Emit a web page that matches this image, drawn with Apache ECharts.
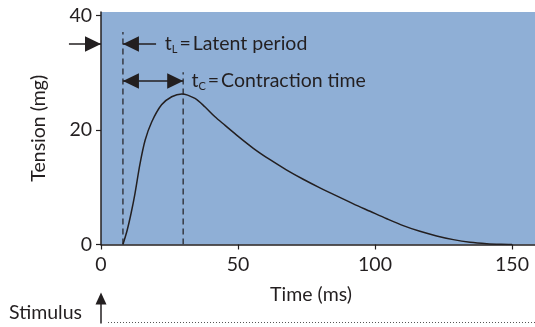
<!DOCTYPE html>
<html><head><meta charset="utf-8">
<script src="https://cdn.jsdelivr.net/npm/echarts@6/dist/echarts.min.js"></script>
<style>html,body{margin:0;padding:0;background:#fff}#c{width:535px;height:327px}</style>
</head><body><div id="c"></div>
<script>
// ---- data ----
const timeMs    = [8, 9.5, 11, 12.4, 14.2, 16.1, 18.5, 22.1, 25.8, 29.5, 34.3, 38, 41.6, 45.3, 49.5, 55.6, 61.7, 67.8, 73.8, 79.9, 86, 92.1, 98.2, 104.3, 110.3, 116.4, 122.5, 128.6, 134.7, 140.8, 146, 150];
const tensionMg = [0, 2.4, 5.5, 8.9, 14.0, 18.2, 21.4, 24.4, 25.8, 26.3, 25.5, 24.0, 22.3, 20.8, 19.1, 16.8, 14.8, 13.0, 11.4, 9.9, 8.5, 7.1, 5.8, 4.5, 3.3, 2.3, 1.5, 0.85, 0.4, 0.15, 0.04, 0];
const xTicks = [0, 50, 100, 150];
const yTicks = [0, 20, 40];
const latentEnd = 8;        // ms, end of latent period
const peakTime = 30;        // ms, end of contraction time
const latentLineTop = 37.1; // mg
const peakLineTop = 30.1;   // mg
const latentArrowY = 35.0;
const contractArrowY = 28.55;
const latentText = ['t', 'L', '=Latent period'];
const contractText = ['t', 'C', '=Contraction time'];
const xName = 'Time (ms)';
const yName = 'Tension (mg)';
const stimulusText = 'Stimulus';

const FONT = 'Lato, "Noto Sans", sans-serif';
const INK = '#231f20';
const chart = echarts.init(document.getElementById('c'), null, {renderer: 'canvas'});

const option = {
  animation: false,
  grid: {left: 101, right: 0, top: 12, bottom: 82.5, show: true, backgroundColor: '#8fafd6', borderWidth: 0},
  xAxis: {
    type: 'value', min: 0, max: 158.4,
    axisLine: {show: true, onZero: false, lineStyle: {color: INK, width: 1.5}},
    axisTick: {show: true, customValues: xTicks, length: 5, lineStyle: {color: INK, width: 1.2}},
    axisLabel: {customValues: xTicks, fontSize: 19.5, color: INK, fontFamily: FONT, margin: 10},
    splitLine: {show: false},
    name: xName, nameLocation: 'middle', nameGap: 40,
    nameTextStyle: {fontSize: 19.5, color: INK, fontFamily: FONT, padding: [0, 14, 0, 0]}
  },
  yAxis: {
    type: 'value', min: 0, max: 40.6,
    axisLine: {show: true, onZero: false, lineStyle: {color: INK, width: 1.5}},
    axisTick: {show: true, customValues: yTicks, length: 5, lineStyle: {color: INK, width: 1.2}},
    axisLabel: {customValues: yTicks, fontSize: 19.5, color: INK, fontFamily: FONT, margin: 9},
    splitLine: {show: false},
    name: yName, nameLocation: 'middle', nameGap: 52, nameRotate: 90,
    nameTextStyle: {fontSize: 19.5, color: INK, fontFamily: FONT}
  },
  series: [
    {type: 'line', data: timeMs.map((t, i) => [t, tensionMg[i]]), smooth: 0.3,
     symbol: 'none', lineStyle: {color: INK, width: 1.5}, z: 5},
    {type: 'line', data: [[latentEnd, 0], [latentEnd, latentLineTop]], symbol: 'none',
     lineStyle: {type: [6, 4], color: '#3b414d', width: 1.6}, z: 4},
    {type: 'line', data: [[peakTime, 0], [peakTime, peakLineTop]], symbol: 'none',
     lineStyle: {type: [6, 4], color: '#3b414d', width: 1.6}, z: 4}
  ]
};
chart.setOption(option);

const px = (x, y) => chart.convertToPixel({gridIndex: 0}, [x, y]);
const g = [];
const HL = 16, HW = 7.8;
function head(tip, dir) { // dir: 1 right, -1 left, 'up'
  if (dir === 'up') {
    return {type: 'polygon', shape: {points: [[tip[0], tip[1]], [tip[0] - 5.5, tip[1] + 12], [tip[0] + 5.5, tip[1] + 12]]}, style: {fill: INK}, z: 20};
  }
  return {type: 'polygon', shape: {points: [[tip[0], tip[1]], [tip[0] - dir * HL, tip[1] - HW], [tip[0] - dir * HL, tip[1] + HW]]}, style: {fill: INK}, z: 20};
}
function seg(a, b, w, extra) {
  return Object.assign({type: 'line', shape: {x1: a[0], y1: a[1], x2: b[0], y2: b[1]}, style: {stroke: INK, lineWidth: w || 1.6}, z: 19}, extra || {});
}
// arrow from left into y axis
const a1tip = px(0, latentArrowY), a1start = px(-11.7, latentArrowY);
g.push(seg(a1start, a1tip), head(a1tip, 1));
// latent arrow pointing left at dashed line
const a2tip = px(latentEnd, latentArrowY), a2end = px(20.1, latentArrowY);
g.push(seg(a2tip, a2end), head(a2tip, -1));
// double arrow for contraction time
const a3l = px(latentEnd, contractArrowY), a3r = px(peakTime, contractArrowY);
g.push(seg(a3l, a3r), head(a3l, -1), head(a3r, 1));

function richLabel(parts, pos) {
  return {type: 'text', x: pos[0], y: pos[1], z: 20,
    style: {text: '{a|' + parts[0] + '}{s|' + parts[1] + '}{e|=}{a|' + parts[2].slice(1) + '}', verticalAlign: 'middle', align: 'left',
      rich: {a: {fontSize: 19.5, fontFamily: FONT, fill: INK},
             e: {fontSize: 19.5, fontFamily: FONT, fill: INK, padding: [0, 2, 0, 1]},
             s: {fontSize: 11, fontFamily: FONT, fill: INK, padding: [11, 1, 0, 0]}}}};
}
g.push(richLabel(latentText, px(23.3, latentArrowY)));
g.push(richLabel(contractText, px(33.0, contractArrowY)));

// stimulus marker under the axis
const x0 = px(0, 0)[0];
g.push({type: 'text', x: 9, y: 313, z: 20, style: {text: stimulusText, fontSize: 19.5, fontFamily: FONT, fill: INK, verticalAlign: 'middle', align: 'left'}});
g.push(seg([x0, 303], [x0, 323.5], 1.5));
g.push(head([x0, 292.5], 'up'));
g.push({type: 'line', shape: {x1: x0 + 7, y1: 322.5, x2: 535, y2: 322.5}, style: {stroke: '#555', lineWidth: 1, lineDash: [1, 2]}, z: 19});

chart.setOption({graphic: g});
</script></body></html>
